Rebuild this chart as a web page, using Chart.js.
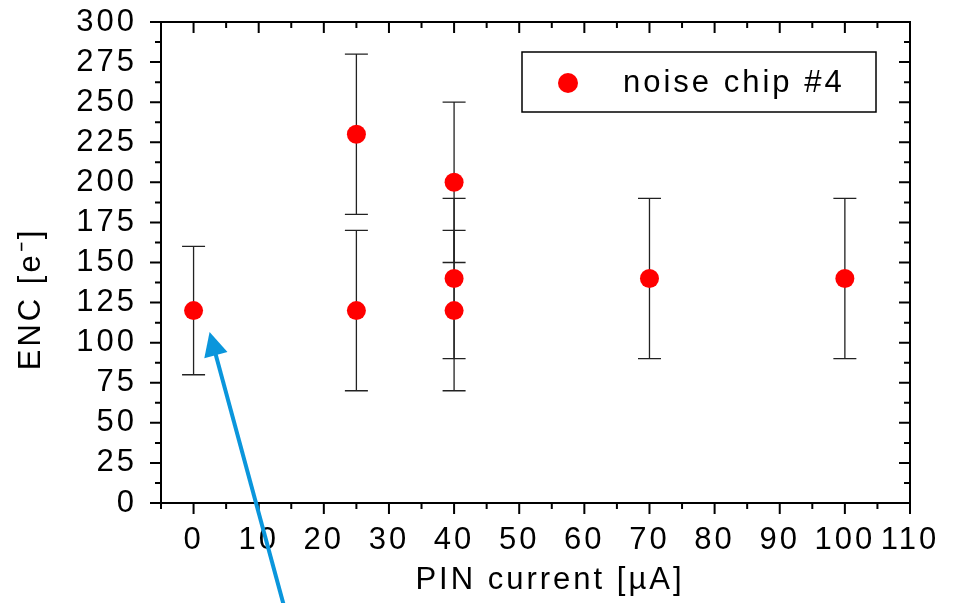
<!DOCTYPE html>
<html>
<head>
<meta charset="utf-8">
<script src="https://cdn.jsdelivr.net/npm/chart.js@4/dist/chart.umd.min.js"></script>
<style>
  html, body { margin: 0; padding: 0; background: #fff; }
  #wrap { width: 954px; height: 603px; }
</style>
</head>
<body>
<div id="wrap"><canvas id="encChart" width="954" height="603"></canvas></div>
<script>
'use strict';

// ── Data ──────────────────────────────────────────────────────────────────────
const pinCurrent = [0, 25, 25, 40, 40, 40, 70, 100];        // µA
const encValue   = [120, 230, 120, 200, 140, 120, 140, 140]; // e-
const encLow     = [80, 180, 70, 150, 90, 70, 90, 90];
const encHigh    = [160, 280, 170, 250, 190, 170, 190, 190];
const seriesName = 'noise chip #4';
const xTitle = 'PIN current [µA]';
const yTitle = 'ENC [e⁻]';
// arrow annotation, [x, y] in data units: tail -> tip
const arrowFrom = [14, -66];
const arrowTo   = [2.46, 106.7];

const FONT = '"Liberation Sans", Arial, Helvetica, sans-serif';
const FONT_SIZE = 31;
const SPACING = '3px';

// ── Plugins ───────────────────────────────────────────────────────────────────
const spacingPlugin = {
  id: 'spacing',
  beforeDraw(chart) { chart.ctx.letterSpacing = SPACING; },
};

const errorBars = {
  id: 'errorBars',
  beforeDatasetsDraw(chart) {
    const { ctx, scales: { x, y } } = chart;
    ctx.save();
    ctx.strokeStyle = '#222';
    ctx.lineWidth = 1.3;
    pinCurrent.forEach((v, i) => {
      const px = x.getPixelForValue(v);
      const lo = y.getPixelForValue(encLow[i]);
      const hi = y.getPixelForValue(encHigh[i]);
      ctx.beginPath();
      ctx.moveTo(px, lo); ctx.lineTo(px, hi);
      ctx.moveTo(px - 11.5, lo); ctx.lineTo(px + 11.5, lo);
      ctx.moveTo(px - 11.5, hi); ctx.lineTo(px + 11.5, hi);
      ctx.stroke();
    });
    ctx.restore();
  },
};

const frame = {
  id: 'frame',
  afterDraw(chart) {
    const { ctx, chartArea: a, scales: { x, y } } = chart;
    ctx.save();
    ctx.strokeStyle = '#000';
    ctx.lineWidth = 2;
    ctx.strokeRect(a.left, a.top, a.right - a.left, a.bottom - a.top);
    ctx.beginPath();
    // x ticks every 5, major every 10
    for (let v = x.min; v <= x.max + 1e-9; v += 5) {
      const px = x.getPixelForValue(v);
      const len = v % 10 === 0 ? 11 : 6;
      ctx.moveTo(px, a.bottom); ctx.lineTo(px, a.bottom + len);
      ctx.moveTo(px, a.top); ctx.lineTo(px, a.top + len);
    }
    // y ticks every 12.5, major every 25
    for (let v = y.min; v <= y.max + 1e-9; v += 12.5) {
      const py = y.getPixelForValue(v);
      const len = v % 25 === 0 ? 11 : 6;
      ctx.moveTo(a.left, py); ctx.lineTo(a.left - len, py);
      ctx.moveTo(a.right, py); ctx.lineTo(a.right - len, py);
    }
    ctx.stroke();

    // axis titles
    ctx.fillStyle = '#000';
    ctx.font = FONT_SIZE + 'px ' + FONT;
    ctx.letterSpacing = SPACING;
    ctx.textAlign = 'center';
    ctx.textBaseline = 'middle';
    ctx.fillText(xTitle, 550, 580);
    ctx.save();
    ctx.translate(31, 299);
    ctx.rotate(-Math.PI / 2);
    ctx.fillText(yTitle, 0, 0);
    ctx.restore();

    // legend box
    ctx.lineWidth = 1.5;
    ctx.strokeRect(522, 52, 354, 60);
    ctx.fillStyle = '#ff0000';
    ctx.beginPath();
    ctx.arc(568, 83, 10, 0, Math.PI * 2);
    ctx.fill();
    ctx.fillStyle = '#000';
    ctx.textAlign = 'left';
    ctx.fillText(chart.data.datasets[0].label, 623, 83);

    // blue arrow
    const x0 = x.getPixelForValue(arrowFrom[0]), y0 = y.getPixelForValue(arrowFrom[1]);
    const x1 = x.getPixelForValue(arrowTo[0]),   y1 = y.getPixelForValue(arrowTo[1]);
    const len = Math.hypot(x1 - x0, y1 - y0);
    const ux = (x1 - x0) / len, uy = (y1 - y0) / len;
    const bx = x1 - ux * 24, by = y1 - uy * 24;
    ctx.strokeStyle = '#0a96dc';
    ctx.fillStyle = '#0a96dc';
    ctx.lineWidth = 4;
    ctx.beginPath();
    ctx.moveTo(x0, y0); ctx.lineTo(bx + ux * 2, by + uy * 2);
    ctx.stroke();
    ctx.beginPath();
    ctx.moveTo(x1, y1);
    ctx.lineTo(bx - uy * 12, by + ux * 12);
    ctx.lineTo(bx + uy * 12, by - ux * 12);
    ctx.closePath();
    ctx.fill();
    ctx.restore();
  },
};

// ── Chart ─────────────────────────────────────────────────────────────────────
const ctx = document.getElementById('encChart').getContext('2d');

new Chart(ctx, {
  type: 'scatter',
  data: {
    datasets: [{
      label: seriesName,
      data: pinCurrent.map((v, i) => ({ x: v, y: encValue[i] })),
      backgroundColor: '#ff0000',
      borderWidth: 0,
      pointRadius: 9.5,
      pointHoverRadius: 9.5,
    }],
  },
  options: {
    responsive: false,
    animation: false,
    layout: { padding: { top: 22, right: 44, left: 0, bottom: 0 } },
    plugins: { legend: { display: false }, tooltip: { enabled: false } },
    scales: {
      x: {
        type: 'linear',
        min: -5,
        max: 110,
        grid: { display: false, drawTicks: false },
        border: { display: false },
        afterFit(scale) {
          scale.height = 100;
          scale.paddingLeft = 0;
          scale.paddingRight = 0;
        },
        ticks: {
          stepSize: 5,
          autoSkip: false,
          maxRotation: 0,
          padding: 19,
          color: '#000',
          font: { family: FONT, size: FONT_SIZE },
          callback: v => (v >= 0 && v % 10 === 0 ? String(v) : ''),
        },
      },
      y: {
        min: 0,
        max: 300,
        grid: { display: false, drawTicks: false },
        border: { display: false },
        afterFit(scale) {
          scale.width = 161;
          scale.paddingTop = 0;
          scale.paddingBottom = 0;
        },
        ticks: {
          stepSize: 25,
          autoSkip: false,
          padding: 24,
          color: '#000',
          font: { family: FONT, size: FONT_SIZE },
        },
      },
    },
  },
  plugins: [spacingPlugin, errorBars, frame],
});
</script>
</body>
</html>
